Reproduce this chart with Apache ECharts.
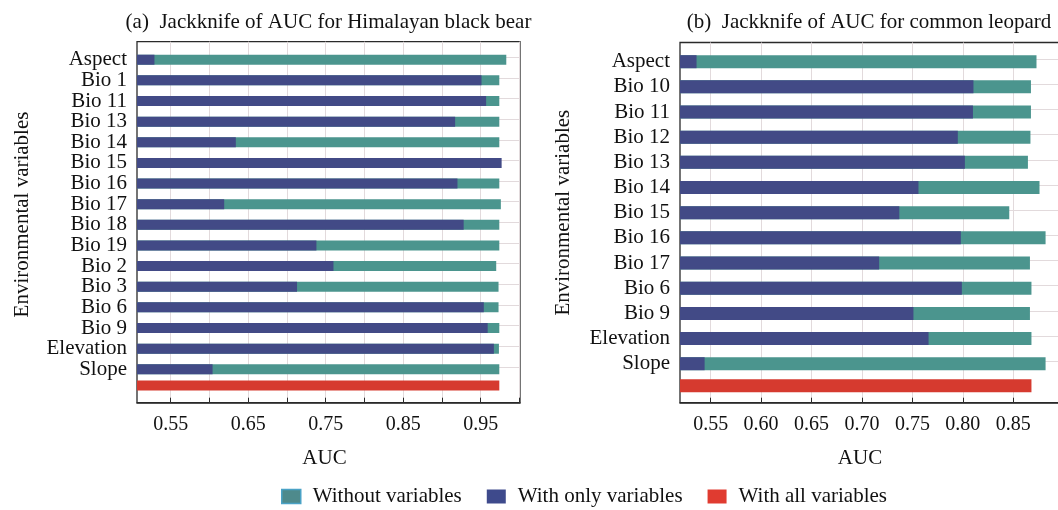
<!DOCTYPE html>
<html>
<head>
<meta charset="utf-8">
<script src="https://cdn.jsdelivr.net/npm/echarts@6/dist/echarts.min.js"></script>
<style>html,body{margin:0;padding:0;background:#fff;}#chart{width:1058px;height:510px;}</style>
</head>
<body>
<div id="chart"></div>
<script>
// ---- data ----
const leftCategories = ['Aspect','Bio 1','Bio 11','Bio 13','Bio 14','Bio 15','Bio 16','Bio 17','Bio 18','Bio 19','Bio 2','Bio 3','Bio 6','Bio 9','Elevation','Slope'];
const leftWithout   = [0.983,0.974,0.974,0.974,0.974,0.957,0.974,0.976,0.974,0.974,0.970,0.973,0.973,0.974,0.9735,0.974];
const leftWithOnly  = [0.529,0.951,0.957,0.917,0.634,0.977,0.920,0.619,0.928,0.738,0.760,0.713,0.954,0.959,0.967,0.604];
const leftWithAll   = [0.974];
const leftTickLabels = [0.55,0.65,0.75,0.85,0.95];
const leftGridTicks  = [0.55,0.60,0.65,0.70,0.75,0.80,0.85,0.90,0.95,1.00];

const rightCategories = ['Aspect','Bio 10','Bio 11','Bio 12','Bio 13','Bio 14','Bio 15','Bio 16','Bio 17','Bio 6','Bio 9','Elevation','Slope'];
const rightWithout  = [0.873,0.8675,0.8675,0.867,0.8645,0.876,0.846,0.882,0.8665,0.868,0.8665,0.868,0.882];
const rightWithOnly = [0.536,0.8105,0.810,0.795,0.802,0.756,0.737,0.798,0.717,0.799,0.751,0.766,0.544];
const rightWithAll  = [0.868];
const rightTickLabels = [0.55,0.60,0.65,0.70,0.75,0.80,0.85];
const rightGridTicks  = [0.55,0.60,0.65,0.70,0.75,0.80,0.85];

const titles = ['(a)  Jackknife of AUC for Himalayan black bear', '(b)  Jackknife of AUC for common leopard'];
const seriesNames = ['Without variables','With only variables','With all variables'];

// ---- style ----
const FONT = 'Liberation Serif';
const TEAL = '#4b958e', BLUE = '#424a86', RED = '#d63a2f';
const GRIDC = '#e2dadc';
const txt = (s) => Object.assign({fontFamily: FONT, fontSize: 21, color: '#111', fontWeight: 'normal'}, s || {});

const panels = [
  {cats: leftCategories, without: leftWithout, only: leftWithOnly, all: leftWithAll,
   labels: leftTickLabels, ticks: leftGridTicks, min: 0.5065, max: 1.0007,
   left: 137, width: 383, top: 41.7, height: 361,
   innerTop: 49.4, innerH: 330.2, redTop: 375.2, redH: 20.6, bw: 10, lineShift: 0.12,
   nameGapY: 104, aucPad: [0, 8, 0, 0], titleX: 328.5},
  {cats: rightCategories, without: rightWithout, only: rightWithOnly, all: rightWithAll,
   labels: rightTickLabels, ticks: rightGridTicks, min: 0.5196, max: 0.8963,
   left: 680, width: 380, top: 42.5, height: 360.2,
   innerTop: 49.1, innerH: 327.2, redTop: 373, redH: 25.4, bw: 13, lineShift: 0.1,
   nameGapY: 106, aucPad: [0, 20, 0, 0], titleX: 869}
];

const grid = [], xAxis = [], yAxis = [], series = [], title = [];
panels.forEach((p, k) => {
  const g0 = k * 3, g1 = g0 + 1, g2 = g0 + 2;
  const n = p.cats.length;
  const rowIdx = p.cats.map((_, i) => i);
  grid.push({left: p.left, width: p.width, top: p.top, height: p.height, show: true,
             borderColor: '#2a2a2a', borderWidth: 1.3, backgroundColor: 'transparent',
             containLabel: false, outerBoundsMode: 'none'});
  grid.push({left: p.left, width: p.width, top: p.innerTop, height: p.innerH,
             containLabel: false, outerBoundsMode: 'none'});
  grid.push({left: p.left, width: p.width, top: p.redTop, height: p.redH,
             containLabel: false, outerBoundsMode: 'none'});

  // outer frame axes (x axis with ticks / labels / vertical grid lines)
  xAxis.push({type: 'value', gridIndex: g0, min: p.min, max: p.max, position: 'bottom',
    axisLine: {show: true, onZero: false, lineStyle: {color: '#2a2a2a', width: 1.5}},
    axisTick: {show: true, inside: true, length: 5, customValues: p.ticks, lineStyle: {color: '#2a2a2a'}},
    axisLabel: {show: true, customValues: p.labels, formatter: v => Number(v).toFixed(2), margin: 12,
                fontFamily: FONT, fontSize: 20, color: '#111'},
    splitLine: {show: true, customValues: p.ticks, lineStyle: {color: GRIDC, width: 1}},
    name: 'AUC', nameLocation: 'middle', nameGap: 45, nameTextStyle: txt({padding: p.aucPad})});
  yAxis.push({type: 'value', gridIndex: g0, min: 0, max: 1, show: false});

  // inner grid: categories
  xAxis.push({type: 'value', gridIndex: g1, min: p.min, max: p.max, show: false});
  const catY = yAxis.length;
  yAxis.push({type: 'category', gridIndex: g1, data: p.cats, inverse: true,
    axisLine: {show: false}, axisTick: {show: false},
    axisLabel: {interval: 0, margin: 10, fontFamily: FONT, fontSize: 21, color: '#111'},
    splitLine: {show: false},
    name: 'Environmental variables', nameLocation: 'middle', nameRotate: 90, nameGap: p.nameGapY,
    nameTextStyle: txt()});

  // red (all variables) grid
  const redX = xAxis.length;
  xAxis.push({type: 'value', gridIndex: g2, min: p.min, max: p.max, show: false});
  const redY = yAxis.length;
  yAxis.push({type: 'category', gridIndex: g2, data: [''], show: false});

  // horizontal row lines in inner grid
  yAxis.push({type: 'value', gridIndex: g1, inverse: true, min: -0.5 + p.lineShift, max: n - 0.5 + p.lineShift,
    position: 'right', axisLine: {show: false}, axisLabel: {show: false},
    axisTick: {show: false, customValues: rowIdx},
    splitLine: {show: true, customValues: rowIdx, lineStyle: {color: GRIDC, width: 1}}});

  const innerX = redX - 1;
  series.push({type: 'bar', name: seriesNames[0], xAxisIndex: innerX, yAxisIndex: catY, data: p.without,
    barWidth: p.bw, barGap: '-100%', clip: true, itemStyle: {color: TEAL}, z: 3});
  series.push({type: 'bar', name: seriesNames[1], xAxisIndex: innerX, yAxisIndex: catY, data: p.only,
    barWidth: p.bw, barGap: '-100%', clip: true, itemStyle: {color: BLUE}, z: 4});
  series.push({type: 'bar', name: seriesNames[2], xAxisIndex: redX, yAxisIndex: redY, data: p.all,
    barWidth: p.bw, clip: true, itemStyle: {color: RED}, z: 3});

  title.push({text: titles[k], left: p.titleX, top: 12, textAlign: 'center', padding: 0,
              textStyle: txt()});
});

const chart = echarts.init(document.getElementById('chart'), null, {renderer: 'canvas'});
chart.setOption({
  animation: false,
  backgroundColor: '#fff',
  title: title,
  legend: {left: 281, top: 486, padding: 0, itemWidth: 19, itemHeight: 14, itemGap: 25, icon: 'rect',
    textStyle: txt({padding: [0, 0, 0, 7]}),
    data: [
      {name: seriesNames[0], itemStyle: {color: '#4e8a8c', borderColor: '#4aa2c6', borderWidth: 1.5}},
      {name: seriesNames[1], itemStyle: {color: '#3e4a8c'}},
      {name: seriesNames[2], itemStyle: {color: '#e03b30'}}
    ]},
  grid: grid, xAxis: xAxis, yAxis: yAxis, series: series
});
</script>
</body>
</html>
